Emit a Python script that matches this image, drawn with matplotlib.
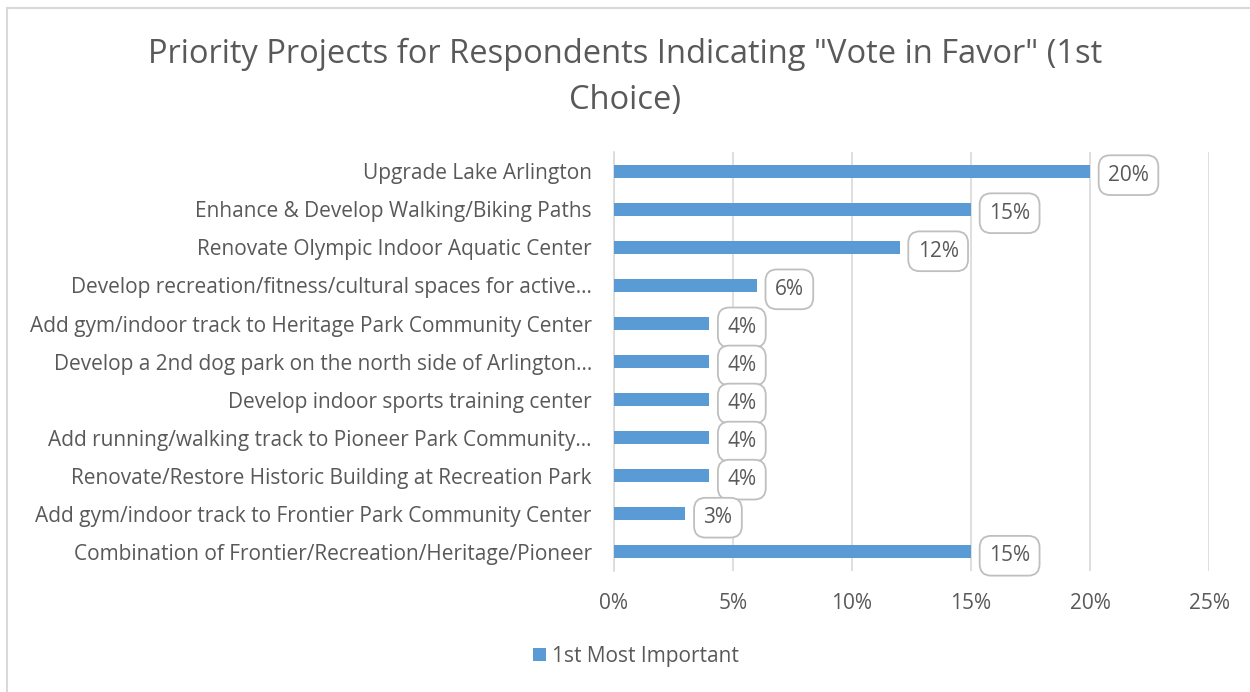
import matplotlib.pyplot as plt
from matplotlib.lines import Line2D

plt.rcParams['font.family'] = ['Open Sans', 'DejaVu Sans']

categories = [
    "Upgrade Lake Arlington",
    "Enhance & Develop Walking/Biking Paths",
    "Renovate Olympic Indoor Aquatic Center",
    "Develop recreation/fitness/cultural spaces for active\u2026",
    "Add gym/indoor track to Heritage Park Community Center",
    "Develop a 2nd dog park on the north side of Arlington\u2026",
    "Develop indoor sports training center",
    "Add running/walking track to Pioneer Park Community\u2026",
    "Renovate/Restore Historic Building at Recreation Park",
    "Add gym/indoor track to Frontier Park Community Center",
    "Combination of Frontier/Recreation/Heritage/Pioneer",
]
values = [20, 15, 12, 6, 4, 4, 4, 4, 4, 3, 15]
xticks = [0, 5, 10, 15, 20, 25]
series_name = "1st Most Important"

txt = '#595959'
bar_col = '#5B9BD5'
fs = 15

fig = plt.figure(figsize=(12.5, 6.92), dpi=100)
# chart border (only left and top visible in the crop)
fig.lines.append(Line2D([0.0058, 0.0058], [0, 0.988], transform=fig.transFigure,
                        color='#D9D9D9', lw=1.5))
fig.lines.append(Line2D([0.0058, 1], [0.988, 0.988], transform=fig.transFigure,
                        color='#D9D9D9', lw=1.5))
ax = fig.add_axes([0.4912, 0.175, 0.476, 0.605])

y = list(range(len(categories)))
ax.barh(y, values, height=0.34, color=bar_col, label=series_name, zorder=3)
ax.set_ylim(len(categories) - 0.5, -0.5)
ax.set_xlim(0, 25)
ax.set_xticks(xticks)
ax.set_xticklabels([f"{t}%" for t in xticks])
ax.set_yticks(y)
ax.set_yticklabels(categories)
ax.tick_params(axis='both', length=0, labelsize=fs, colors=txt)
ax.tick_params(axis='y', pad=16)
ax.tick_params(axis='x', pad=16)
ax.grid(axis='x', color='#D9D9D9', linewidth=1.2, zorder=0)
for s in ['top', 'right', 'bottom']:
    ax.spines[s].set_visible(False)
ax.spines['left'].set_color('#D9D9D9')
ax.spines['left'].set_linewidth(1.2)

for yi, v in zip(y, values):
    ax.annotate(f"{v}%", (v, yi), xytext=(13, -1), textcoords='offset points',
                va='center_baseline', ha='left', fontsize=fs, color=txt,
                bbox=dict(boxstyle='round,pad=0.45,rounding_size=0.55', fc='white',
                          ec='#BFBFBF', lw=1.3), zorder=4)

fig.suptitle('Priority Projects for Respondents Indicating "Vote in Favor" (1st\nChoice)',
             y=0.945, fontsize=23.5, color=txt, linespacing=1.5)

fig.legend(loc='center', bbox_to_anchor=(0.509, 0.052), frameon=False, fontsize=fs,
           labelcolor=txt, handlelength=0.6, handleheight=0.6, handletextpad=0.3)

fig.savefig('out.png', dpi=100)
